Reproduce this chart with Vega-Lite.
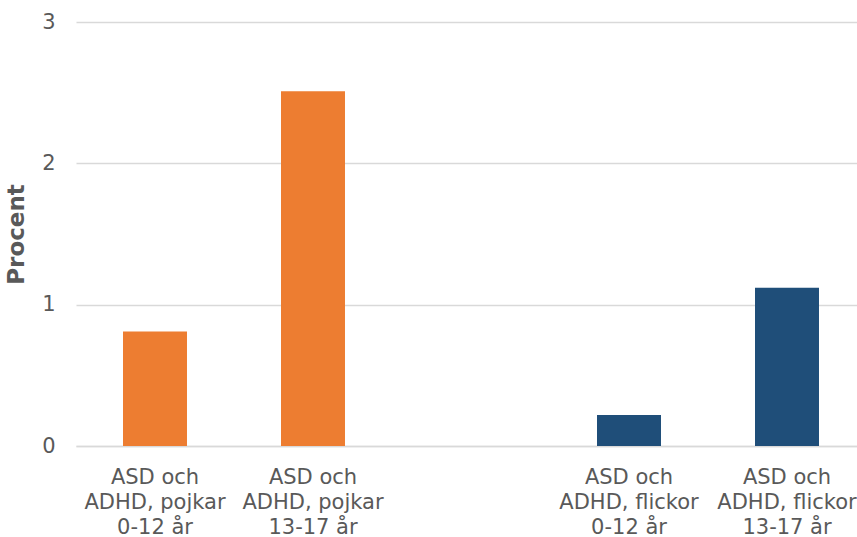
{
  "$schema": "https://vega.github.io/schema/vega-lite/v6.json",
  "width": 781,
  "height": 424,
  "autosize": {"type": "none"},
  "padding": {"left": 76, "top": 22, "right": 0, "bottom": 91},
  "background": "white",
  "config": {
    "font": "DejaVu Sans",
    "view": {"stroke": null}
  },
  "data": {
    "values": [
      {"kategori": "ASD och|ADHD, pojkar|0-12 år", "grupp": "pojkar", "procent": 0.81},
      {"kategori": "ASD och|ADHD, pojkar|13-17 år", "grupp": "pojkar", "procent": 2.51},
      {"kategori": "ASD och|ADHD, flickor|0-12 år", "grupp": "flickor", "procent": 0.22},
      {"kategori": "ASD och|ADHD, flickor|13-17 år", "grupp": "flickor", "procent": 1.12}
    ]
  },
  "mark": {"type": "bar"},
  "encoding": {
    "x": {
      "field": "kategori",
      "type": "nominal",
      "sort": null,
      "scale": {
        "domain": ["ASD och|ADHD, pojkar|0-12 år", "ASD och|ADHD, pojkar|13-17 år", " ", "ASD och|ADHD, flickor|0-12 år", "ASD och|ADHD, flickor|13-17 år"],
        "range": [0, 790],
        "paddingInner": 0.595,
        "paddingOuter": 0.2975
      },
      "axis": {
        "title": null,
        "labelAngle": 0,
        "labelExpr": "split(datum.label, '|')",
        "labelFontSize": 21,
        "labelLineHeight": 25,
        "labelColor": "#595959",
        "labelPadding": 20,
        "labelBaseline": "top",
        "ticks": false,
        "domain": true,
        "domainColor": "#D9D9D9",
        "domainWidth": 1.5,
        "grid": false
      }
    },
    "y": {
      "field": "procent",
      "type": "quantitative",
      "scale": {"domain": [0, 3], "nice": false},
      "axis": {
        "title": "Procent",
        "titleFontSize": 23,
        "titleFontWeight": "bold",
        "titleColor": "#595959",
        "titlePadding": 13,
        "values": [0, 1, 2, 3],
        "labelFontSize": 21,
        "labelColor": "#595959",
        "labelPadding": 21,
        "ticks": false,
        "domain": false,
        "grid": true,
        "gridColor": "#D9D9D9",
        "gridWidth": 1.5
      }
    },
    "color": {
      "field": "grupp",
      "type": "nominal",
      "scale": {"domain": ["pojkar", "flickor"], "range": ["#ED7D31", "#1F4E79"]},
      "legend": null
    }
  }
}
